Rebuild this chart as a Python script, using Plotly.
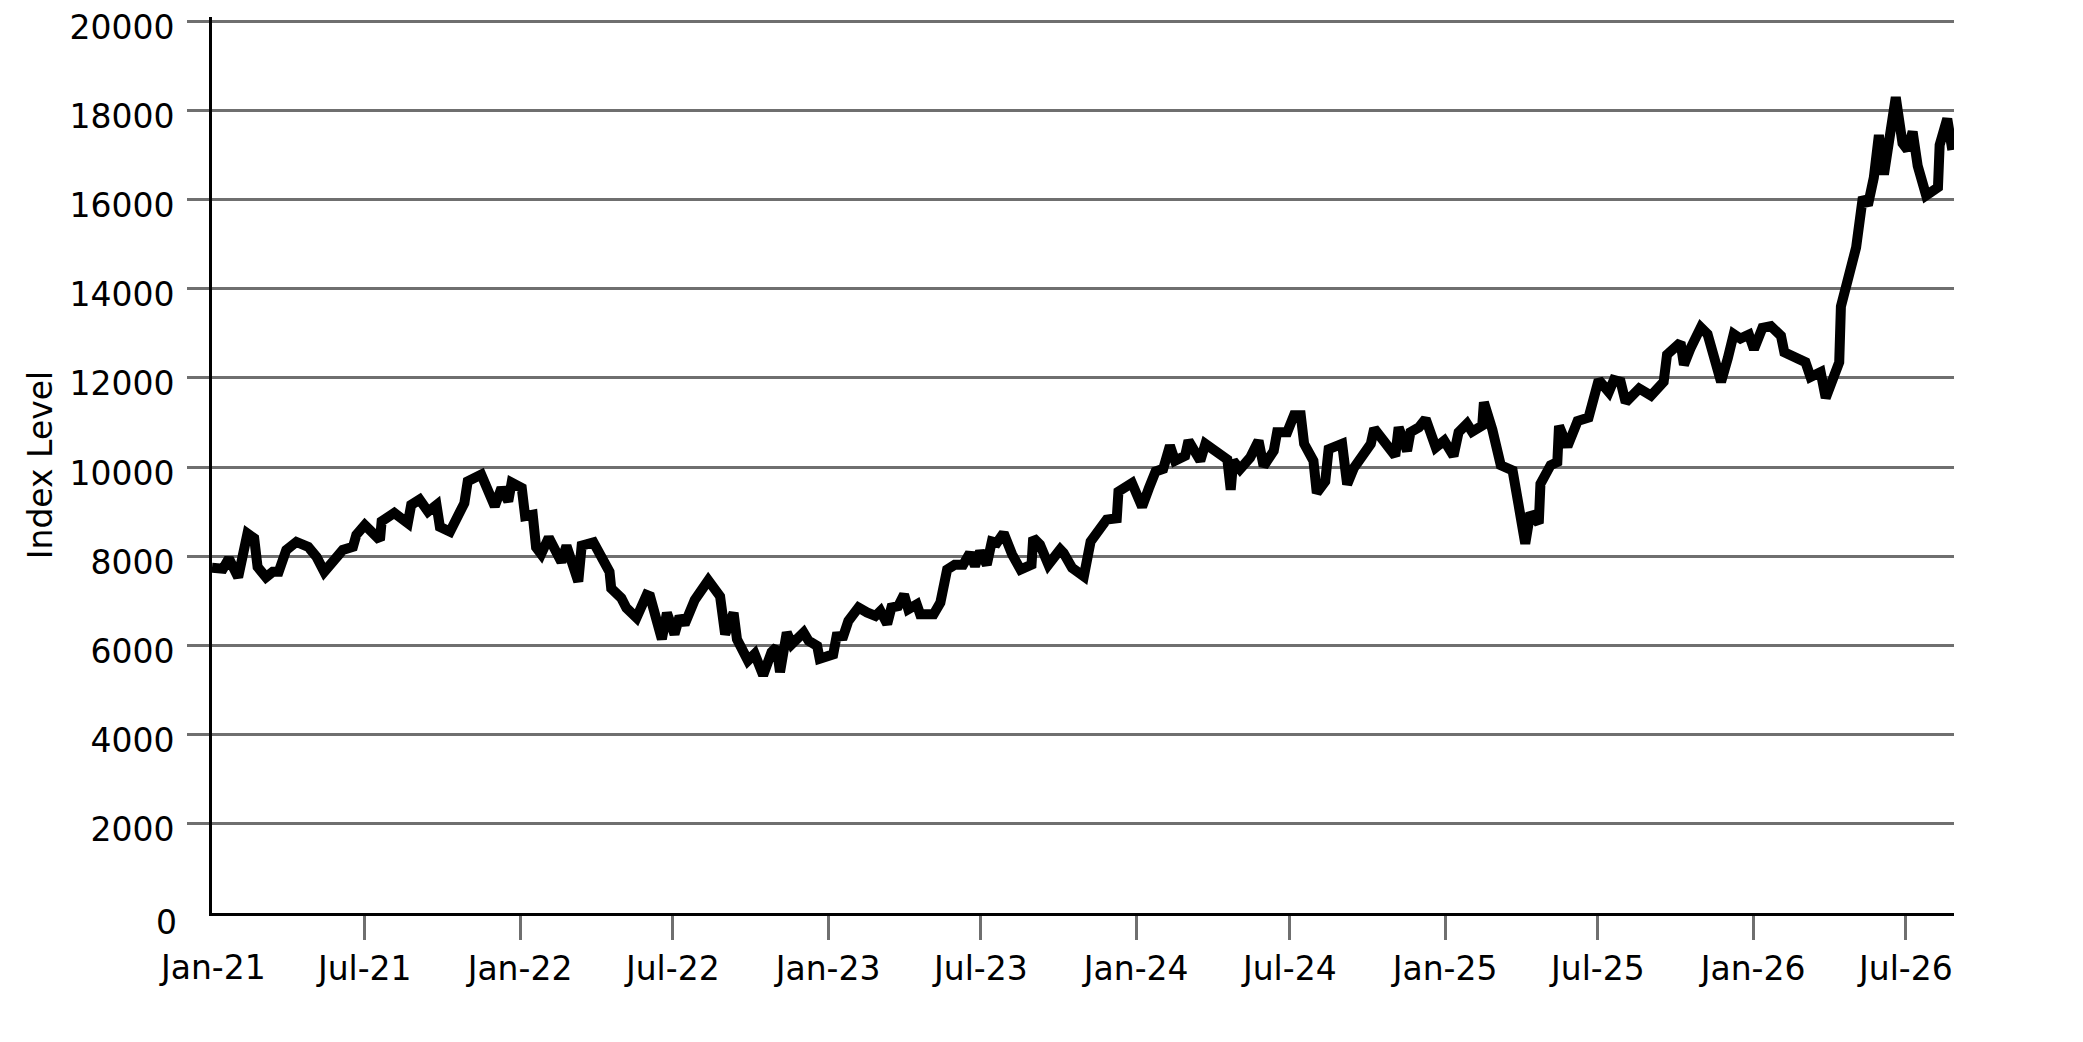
import plotly.graph_objects as go

dates = [
    "2021-01-01", "2021-01-14", "2021-01-21", "2021-02-01", "2021-02-12", "2021-02-20", "2021-02-24",
    "2021-03-06", "2021-03-14", "2021-03-21", "2021-03-30", "2021-04-11", "2021-04-25", "2021-05-05",
    "2021-05-14", "2021-05-28", "2021-06-05", "2021-06-17", "2021-06-21", "2021-07-01", "2021-07-19",
    "2021-07-21", "2021-08-05", "2021-08-21", "2021-08-25", "2021-09-04", "2021-09-14", "2021-09-24",
    "2021-09-28", "2021-10-10", "2021-10-18", "2021-10-27", "2021-10-31", "2021-11-16", "2021-12-02",
    "2021-12-10", "2021-12-18", "2021-12-22", "2022-01-03", "2022-01-07", "2022-01-16", "2022-01-20",
    "2022-01-26", "2022-02-04", "2022-02-19", "2022-02-25", "2022-03-11", "2022-03-15", "2022-03-29",
    "2022-04-17", "2022-04-19", "2022-05-01", "2022-05-07", "2022-05-19", "2022-05-31", "2022-06-04",
    "2022-06-18", "2022-06-24", "2022-07-03", "2022-07-09", "2022-07-15", "2022-07-27", "2022-08-12",
    "2022-08-26", "2022-09-01", "2022-09-11", "2022-09-15", "2022-09-22", "2022-09-28", "2022-10-06",
    "2022-10-16", "2022-10-26", "2022-11-01", "2022-11-05", "2022-11-13", "2022-11-19", "2022-12-03",
    "2022-12-09", "2022-12-19", "2022-12-22", "2023-01-07", "2023-01-11", "2023-01-19", "2023-01-25",
    "2023-02-06", "2023-02-16", "2023-02-26", "2023-03-04", "2023-03-12", "2023-03-17", "2023-03-25",
    "2023-04-01", "2023-04-06", "2023-04-16", "2023-04-20", "2023-05-06", "2023-05-14", "2023-05-22",
    "2023-05-31", "2023-06-10", "2023-06-18", "2023-06-24", "2023-06-30", "2023-07-08", "2023-07-14",
    "2023-07-20", "2023-07-28", "2023-08-07", "2023-08-17", "2023-08-30", "2023-09-01", "2023-09-09",
    "2023-09-19", "2023-10-03", "2023-10-07", "2023-10-17", "2023-10-31", "2023-11-08", "2023-11-16",
    "2023-11-27", "2023-12-09", "2023-12-11", "2023-12-27", "2024-01-08", "2024-01-16", "2024-01-24",
    "2024-02-02", "2024-02-10", "2024-02-16", "2024-02-28", "2024-03-03", "2024-03-17", "2024-03-23",
    "2024-04-02", "2024-04-12", "2024-04-18", "2024-04-22", "2024-04-25", "2024-05-03", "2024-05-15",
    "2024-05-25", "2024-05-31", "2024-06-12", "2024-06-16", "2024-06-28", "2024-07-06", "2024-07-14",
    "2024-07-18", "2024-07-29", "2024-08-02", "2024-08-12", "2024-08-16", "2024-09-01", "2024-09-07",
    "2024-09-15", "2024-09-27", "2024-10-05", "2024-10-09", "2024-10-20", "2024-11-03", "2024-11-07",
    "2024-11-17", "2024-11-21", "2024-12-01", "2024-12-09", "2024-12-21", "2024-12-31", "2025-01-11",
    "2025-01-17", "2025-01-27", "2025-02-02", "2025-02-14", "2025-02-16", "2025-02-26", "2025-03-08",
    "2025-03-22", "2025-03-29", "2025-04-06", "2025-04-12", "2025-04-22", "2025-04-24", "2025-05-06",
    "2025-05-14", "2025-05-16", "2025-05-26", "2025-06-07", "2025-06-20", "2025-07-02", "2025-07-14",
    "2025-07-20", "2025-07-28", "2025-08-03", "2025-08-19", "2025-09-02", "2025-09-17", "2025-09-21",
    "2025-10-07", "2025-10-11", "2025-10-19", "2025-10-31", "2025-11-08", "2025-11-24", "2025-12-02",
    "2025-12-09", "2025-12-17", "2025-12-27", "2026-01-02", "2026-01-12", "2026-01-22", "2026-02-03",
    "2026-02-07", "2026-02-19", "2026-03-04", "2026-03-10", "2026-03-22", "2026-03-28", "2026-04-05",
    "2026-04-13", "2026-04-15", "2026-04-23", "2026-05-03", "2026-05-11", "2026-05-17", "2026-05-24",
    "2026-05-30", "2026-06-05", "2026-06-11", "2026-06-19", "2026-06-27", "2026-07-03", "2026-07-09",
    "2026-07-15", "2026-07-25", "2026-08-08", "2026-08-10", "2026-08-19", "2026-08-25",
]

index_level = [
    7740, 7720, 7950, 7530, 8510, 8400, 7760,
    7530, 7650, 7650, 8140, 8320, 8210, 7980,
    7650, 7980, 8140, 8210, 8480, 8700, 8360,
    8780, 8970, 8740, 9150, 9270, 9000, 9150,
    8660, 8550, 8850, 9190, 9680, 9830, 9120,
    9530, 9230, 9650, 9530, 8900, 8930, 8200,
    8050, 8420, 7870, 8235, 7430, 8235, 8310,
    7650, 7280, 7060, 6840, 6620, 7130, 7100,
    6140, 6730, 6250, 6650, 6470, 7020, 7460,
    7100, 6250, 6730, 6140, 5880, 5660, 5810,
    5330, 5850, 5960, 5400, 6290, 6030, 6290,
    6100, 5990, 5700, 5800, 6200, 6210, 6550,
    6850, 6740, 6660, 6770, 6480, 6850, 6880,
    7140, 6810, 6920, 6700, 6700, 6960, 7700,
    7810, 7810, 8070, 7780, 8110, 7810, 8330,
    8300, 8520, 8040, 7700, 7810, 8410, 8260,
    7810, 8150, 8070, 7740, 7550, 8330, 8560,
    8820, 8850, 9450, 9640, 9110, 9520, 9900,
    9960, 10480, 10140, 10250, 10590, 10140, 10520,
    10400, 10250, 10170, 9490, 10140, 9950, 10210,
    10590, 10020, 10360, 10780, 10780, 11160, 11160,
    10520, 10140, 9420, 9680, 10400, 10520, 9610,
    9980, 10290, 10520, 10860, 10550, 10250, 10890,
    10360, 10780, 10890, 11080, 10440, 10590, 10250,
    10780, 10970, 10790, 10930, 11450, 10840, 10040,
    9920, 9160, 8280, 8970, 8740, 9620, 10040,
    10110, 10920, 10460, 11030, 11110, 11950, 11680,
    11950, 11910, 11450, 11760, 11600, 11910, 12520,
    12790, 12290, 12670, 13130, 12980, 11910, 12440,
    12980, 12880, 12970, 12640, 13120, 13160, 12940,
    12570, 12460, 12350, 12020, 12130, 11550, 11950,
    12350, 13600, 14260, 14920, 16050, 15870, 16490,
    17440, 16560, 17190, 18290, 17260, 17110, 17520,
    16750, 16090, 16270, 17220, 17810, 17110,
]

x_tick_vals = ["2021-07-01", "2022-01-01", "2022-07-01", "2023-01-01", "2023-07-01",
               "2024-01-01", "2024-07-01", "2025-01-01", "2025-07-01", "2026-01-01", "2026-07-01"]
x_tick_text = ["Jul-21", "Jan-22", "Jul-22", "Jan-23", "Jul-23",
               "Jan-24", "Jul-24", "Jan-25", "Jul-25", "Jan-26", "Jul-26"]
first_tick_val = "2021-01-01"
first_tick_text = "Jan-21"
y_tick_vals = [2000, 4000, 6000, 8000, 10000, 12000, 14000, 16000, 18000, 20000]
y_tick_text = ["2000", "4000", "6000", "8000", "10000", "12000", "14000", "16000", "18000", "20000"]
zero_label = "0"
x_range = ["2021-01-01", "2026-08-27"]
y_range = [0, 20090]

FONT = "DejaVu Sans"
GRID = "#6f6f6f"

fig = go.Figure()
fig.add_trace(go.Scatter(
    x=dates, y=index_level, mode="lines",
    line=dict(color="black", width=10, shape="linear"),
    showlegend=False, hoverinfo="skip",
))

fig.update_layout(
    width=2083, height=1042,
    margin=dict(l=204, r=137, t=9, b=137),
    paper_bgcolor="white", plot_bgcolor="white",
    font=dict(family=FONT, size=33, color="black"),
    showlegend=False,
)

fig.update_xaxes(
    type="date", range=x_range, automargin=False,
    tickvals=x_tick_vals, ticktext=x_tick_text,
    ticks="outside", ticklen=24, tickwidth=3, tickcolor=GRID,
    showgrid=False, zeroline=False,
    showline=True, linecolor="black", linewidth=3,
    tickfont=dict(family=FONT, size=33, color="black"),
)
fig.update_yaxes(
    range=y_range, automargin=False,
    tickvals=y_tick_vals, ticktext=y_tick_text,
    ticks="outside", ticklen=22, tickwidth=3, tickcolor=GRID,
    ticklabelstandoff=6, ticklabelshift=6, ticklabeloverflow="allow",
    showgrid=True, gridcolor=GRID, gridwidth=3,
    zeroline=False,
    showline=True, linecolor="black", linewidth=3,
    tickfont=dict(family=FONT, size=33, color="black"),
    title=dict(text="Index Level", font=dict(family=FONT, size=33, color="black"), standoff=7),
)

fig.add_annotation(
    x=first_tick_val, y=0, xref="x", yref="paper", yanchor="top", xanchor="center",
    text=first_tick_text, showarrow=False, yshift=-33,
    font=dict(family=FONT, size=33, color="black"),
)
fig.add_annotation(
    x=0, y=0, xref="paper", yref="y", xanchor="right", yanchor="middle",
    text=zero_label, showarrow=False, xshift=-33, yshift=-9,
    font=dict(family=FONT, size=33, color="black"),
)

fig.write_html("out.html")
